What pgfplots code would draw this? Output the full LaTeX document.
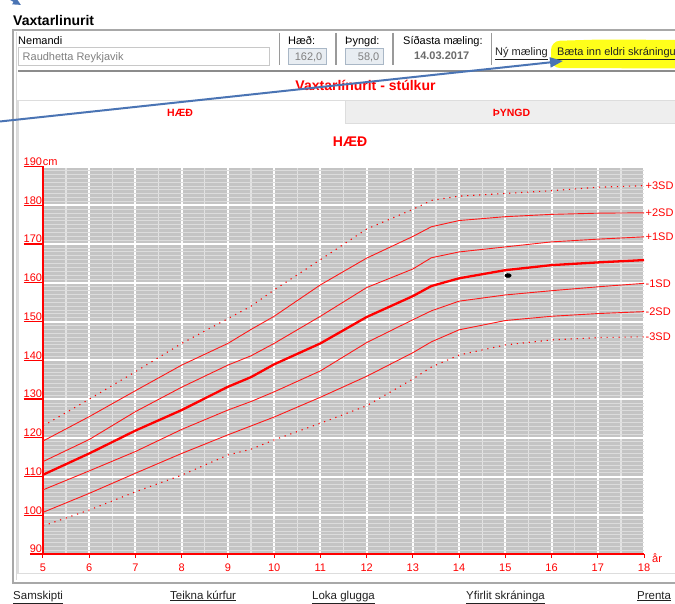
\documentclass[border=0pt]{standalone}
\usepackage{pgfplots}
\pgfplotsset{compat=1.18}
\usetikzlibrary{arrows.meta}
\usepackage{fontspec}
\setmainfont{Liberation Sans}
\newcommand\fs[1]{\fontsize{#1}{#1}\selectfont}
\newcommand\ylab[1]{\setbox0=\hbox{#1\kern2.5pt}\rlap{\rule[-1.8pt]{\wd0}{1.4pt}}\box0}
\definecolor{bluearrow}{HTML}{4A74B4}
\definecolor{frame}{HTML}{A8A8A8}
\definecolor{framelight}{HTML}{D8D8D8}
\definecolor{chartbg}{HTML}{C4C4C4}
\definecolor{gridlight}{HTML}{DCDCDC}
\definecolor{gridhalf}{HTML}{E2E2E2}
\definecolor{txtgray}{HTML}{808080}
\definecolor{tabgray}{HTML}{EEEEEE}
\definecolor{panelgray}{HTML}{DDDDDD}
\definecolor{boxfill}{HTML}{E8EDF2}
\definecolor{boxborder}{HTML}{A9B7C6}
\definecolor{inputborder}{HTML}{C8C8C8}
\definecolor{sepgray}{HTML}{9A9A9A}
\definecolor{rulegray}{HTML}{8C8C8C}
\definecolor{linkcol}{HTML}{222222}
\definecolor{datecol}{HTML}{6A6A6A}
\definecolor{hl}{HTML}{FFFF1A}

\pgfplotstableread{
x    p3     p2     p1     med    m1     m2     m3
5    123.1  119.2  113.9  110.5  106.6  100.8  97.3
6    130.0  125.5  119.6  116.0  111.5  105.7  101.4
7    137.1  132.2  126.8  121.9  116.5  110.9  106.1
8    144.4  138.8  133.1  127.2  122.2  116.0  110.4
9    150.8  144.4  138.8  133.2  127.2  120.8  115.6
9.5  154.0  148.0  141.2  135.7  129.4  123.1  117.1
10   158.2  151.4  144.4  139.0  131.9  125.4  119.5
11   166.0  159.5  151.4  144.4  137.3  130.5  123.8
12   173.9  166.4  158.8  151.2  144.6  135.9  128.3
13   179.0  172.0  163.6  156.6  150.5  142.0  135.2
13.4 181.3  174.5  166.5  159.2  152.8  144.8  138.3
14   182.4  176.1  168.0  161.2  155.3  147.9  141.4
15   183.1  177.1  169.3  163.3  156.9  150.3  144.0
16   183.8  177.7  170.6  164.6  158.0  151.4  145.3
17   184.7  178.0  171.3  165.3  159.0  152.1  145.9
18   185.1  178.1  171.9  165.9  159.9  152.6  146.1
}\sdtable

\begin{document}
\begin{tikzpicture}[x=1pt,y=1pt]
\useasboundingbox (0,0) rectangle (675,603);
\begin{scope}[shift={(0,603)},yscale=-1]
\fill[white] (-5,-5) rectangle (680,610);
% outer frame
\draw[frame, line width=1.5pt] (680,30) -- (13,30) -- (13,583) -- (680,583);
\draw[framelight, line width=1pt] (16.5,32) -- (16.5,580);
% title
\node[anchor=base west, inner sep=0, font=\bfseries\fs{14}] at (13,26) {Vaxtarlinurit};
% header
\node[anchor=base west, inner sep=0, font=\fs{11}] at (18,45) {Nemandi};
\draw[inputborder, line width=1pt, fill=white] (18,47.5) rectangle (269,65.5);
\node[anchor=base west, inner sep=0, font=\fs{11}, text=txtgray] at (22.5,60.5) {Raudhetta Reykjavik};
\draw[sepgray, line width=1.5pt] (279.3,33) -- (279.3,65);
\draw[sepgray, line width=1.5pt] (336,33) -- (336,65);
\draw[sepgray, line width=1.5pt] (393,33) -- (393,65);
\draw[sepgray, line width=1.5pt] (491.5,33) -- (491.5,65);
\node[anchor=base west, inner sep=0, font=\fs{11}] at (288,45) {Hæð:};
\draw[boxborder, line width=1pt, fill=boxfill] (288,48.5) rectangle (326,65);
\node[anchor=base east, inner sep=0, font=\fs{11}, text=txtgray] at (322.5,60.5) {162,0};
\node[anchor=base west, inner sep=0, font=\fs{11}] at (345,45) {Þyngd:};
\draw[boxborder, line width=1pt, fill=boxfill] (345,48.5) rectangle (383,65);
\node[anchor=base east, inner sep=0, font=\fs{11}, text=txtgray] at (379.5,60.5) {58,0};
\node[anchor=base west, inner sep=0, font=\fs{11}] at (403,45) {Síðasta mæling:};
\node[anchor=base west, inner sep=0, font=\bfseries\fs{11}, text=datecol] at (414,60) {14.03.2017};
\fill[hl, rounded corners=9pt] (551,41) -- (600,39.5) -- (690,40) -- (690,68.5) -- (551,68) -- cycle;
\node[anchor=base west, inner sep=0, font=\fs{11}, text=linkcol] at (495,56) {\underline{Ný mæling}};
\node[anchor=base west, inner sep=0, font=\fs{11}, text=linkcol] at (557,56) {\underline{Bæta inn eldri skráningu}};
\draw[rulegray, line width=1.5pt] (18,71) -- (680,71);
% red title
\node[anchor=base, inner sep=0, font=\bfseries\fs{14}, text=red] at (365.5,90.5) {Vaxtarlínurit - stúlkur};
% panel and tabs
\fill[tabgray] (345,101.5) rectangle (680,124);
\draw[panelgray, line width=1.5pt] (18,100.5) -- (680,100.5);
\draw[panelgray, line width=1pt] (345,100.5) -- (345,124) -- (680,124);
\draw[panelgray, line width=1.5pt] (18,100.5) -- (18,573.5) -- (680,573.5);
\node[anchor=base, inner sep=0, font=\bfseries\fs{10.5}, text=red] at (180,116.7) {HÆÐ};
\node[anchor=base, inner sep=0, font=\bfseries\fs{10.5}, text=red] at (511.5,117) {ÞYNGD};
\node[anchor=base, inner sep=0, font=\bfseries\fs{14}, text=red] at (350,146.5) {HÆÐ};
% footer
\node[anchor=base west, inner sep=0, font=\fs{11.5}, text=linkcol] at (13,599) {\underline{Samskipti}};
\node[anchor=base west, inner sep=0, font=\fs{11.5}, text=linkcol] at (170,599) {\underline{Teikna kúrfur}};
\node[anchor=base west, inner sep=0, font=\fs{11.5}, text=linkcol] at (312,599) {\underline{Loka glugga}};
\node[anchor=base west, inner sep=0, font=\fs{11.5}, text=linkcol] at (466,599) {\underline{Yfirlit skráninga}};
\node[anchor=base west, inner sep=0, font=\fs{11.5}, text=linkcol] at (637,599) {\underline{Prenta}};
\end{scope}

\begin{axis}[
  at={(43pt,48.8pt)}, anchor=south west,
  scale only axis, width=601pt, height=387.5pt,
  xmin=5, xmax=18, ymin=90, ymax=190,
  enlargelimits=false, clip=false,
  axis background/.style={fill=chartbg},
  xtick={5,...,18}, ytick={90,100,...,190},
  minor x tick num=1, minor y tick num=9,
  grid=both,
  major x grid style={white, line width=2pt},
  minor x grid style={gridhalf, line width=1.3pt},
  major y grid style={white, line width=2pt},
  minor y grid style={gridlight, line width=0.9pt},
  axis x line*=bottom, axis y line*=left,
  x axis line style={red, line width=1.5pt, -},
  y axis line style={red, line width=2pt, -},
  tick align=outside,
  major tick length=3.5pt, minor tick length=0pt,
  xtick style={red, line width=1pt},
  ytick style={draw=none},
  /pgf/number format/assume math mode=true,
  xticklabel style={text=red, font=\fs{11}, yshift=-3pt},
  yticklabel style={text=red, font=\fs{11}, anchor=base east, inner sep=0pt, yshift=1.3pt, xshift=5.2pt},
  yticklabel={\ylab{\pgfmathprintnumber{\tick}}},
]
\addplot[red, line width=1.1pt, dash pattern=on 1.2pt off 4.8pt] table[x=x,y=p3] {\sdtable};
\addplot[red!90, line width=0.9pt] table[x=x,y=p2] {\sdtable};
\addplot[red!90, line width=0.9pt] table[x=x,y=p1] {\sdtable};
\addplot[red, line width=2.3pt] table[x=x,y=med] {\sdtable};
\addplot[red!90, line width=0.9pt] table[x=x,y=m1] {\sdtable};
\addplot[red!90, line width=0.9pt] table[x=x,y=m2] {\sdtable};
\addplot[red, line width=1.1pt, dash pattern=on 1.2pt off 4.8pt] table[x=x,y=m3] {\sdtable};
\addplot[only marks, mark=*, mark size=2pt, mark options={black, xscale=1.6, rotate=12}] coordinates {(15.06,161.9)};
\node[anchor=base west, inner sep=0, font=\fs{11}, text=red] at (axis cs:5,190) [yshift=1.3pt, xshift=-0.3pt] {cm};
\node[anchor=north west, inner sep=0, font=\fs{11}, text=red] at (axis cs:18,90) [xshift=8pt, yshift=1pt] {år};
\node[anchor=west, inner sep=1.5pt, font=\fs{11}, text=red] at (axis cs:18,185.1) {+3SD};
\node[anchor=west, inner sep=1.5pt, font=\fs{11}, text=red] at (axis cs:18,178.1) {+2SD};
\node[anchor=west, inner sep=1.5pt, font=\fs{11}, text=red] at (axis cs:18,171.9) {+1SD};
\node[anchor=west, inner sep=1.5pt, font=\fs{11}, text=red] at (axis cs:18,159.9) {-1SD};
\node[anchor=west, inner sep=1.5pt, font=\fs{11}, text=red] at (axis cs:18,152.6) {-2SD};
\node[anchor=west, inner sep=1.5pt, font=\fs{11}, text=red] at (axis cs:18,146.1) {-3SD};
\end{axis}

\begin{scope}[shift={(0,603)},yscale=-1]
\draw[bluearrow, line width=2pt, -{Triangle[length=13pt,width=10pt]}] (-3,121.8) -- (563,61);
\draw[bluearrow, line width=2pt, -{Triangle[length=8pt,width=7pt]}] (0,-7) -- (21,5);
\end{scope}
\end{tikzpicture}
\end{document}
